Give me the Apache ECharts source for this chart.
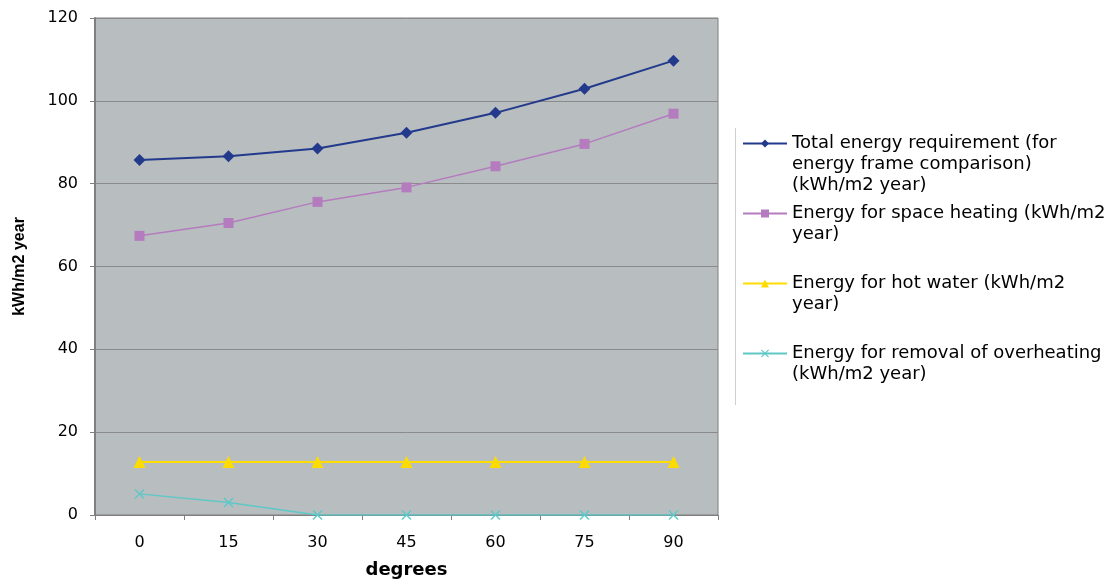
<!DOCTYPE html>
<html>
<head>
<meta charset="utf-8">
<script src="https://cdn.jsdelivr.net/npm/echarts@6/dist/echarts.min.js"></script>
<style>html,body{margin:0;padding:0;background:#fff}#c{width:1119px;height:581px}</style>
</head>
<body>
<div id="c"></div>
<script>
const categories = ['0', '15', '30', '45', '60', '75', '90'];
const totalEnergy = [85.7, 86.6, 88.5, 92.3, 97.1, 102.9, 109.7];
const spaceHeating = [67.4, 70.5, 75.6, 79.1, 84.2, 89.6, 96.9];
const hotWater = [12.8, 12.8, 12.8, 12.8, 12.8, 12.8, 12.8];
const overheating = [5.1, 3.0, 0, 0, 0, 0, 0];
const seriesNames = [
  'Total energy requirement (for energy frame comparison) (kWh/m2 year)',
  'Energy for space heating (kWh/m2 year)',
  'Energy for hot water (kWh/m2 year)',
  'Energy for removal of overheating (kWh/m2 year)'
];
const legendLabels = [
  'Total energy requirement (for\nenergy frame comparison)\n(kWh/m2 year)',
  'Energy for space heating (kWh/m2\nyear)',
  'Energy for hot water (kWh/m2\nyear)',
  'Energy for removal of overheating\n(kWh/m2 year)'
];
const yTicks = [0, 20, 40, 60, 80, 100, 120];
const xAxisTitle = 'degrees';
const yAxisTitle = 'kWh/m2 year';

const WIDE = 'DejaVu Sans, Verdana, sans-serif';
const ARIAL = 'Liberation Sans, Arial, sans-serif';
const colors = ['#233a8c', '#b57bbf', '#ffdc00', '#5ec8c6'];
const xPath = 'path://M0,1L1,0L5,4L9,0L10,1L6,5L10,9L9,10L5,6L1,10L0,9L4,5Z';

// pad each legend label with empty lines so that its first line sits on the icon
// and every item has the same height (5 lines)
function padLabel(label) {
  const n = label.split('\n').length;
  const before = Math.max(n - 1, 2);
  const after = 5 - before - n;
  return '\n'.repeat(before) + label + '\n'.repeat(Math.max(after, 0));
}

const chart = echarts.init(document.getElementById('c'));
chart.setOption({
  animation: false,
  backgroundColor: '#ffffff',
  textStyle: { fontFamily: WIDE },
  grid: {
    left: 95, right: 401, top: 18, bottom: 66,
    containLabel: false,
    outerBoundsMode: 'none',
    show: true, backgroundColor: '#b8bdc0', borderColor: '#7f7f7f', borderWidth: 1
  },
  legend: {
    orient: 'vertical',
    left: 742, top: 91,
    padding: 0,
    itemWidth: 44, itemHeight: 10, itemGap: -35,
    data: seriesNames,
    formatter: name => padLabel(legendLabels[seriesNames.indexOf(name)]),
    textStyle: { fontFamily: WIDE, fontSize: 18, color: '#000', lineHeight: 21 }
  },
  xAxis: {
    type: 'category',
    data: categories,
    boundaryGap: true,
    name: xAxisTitle,
    nameLocation: 'middle',
    nameGap: 46,
    nameTextStyle: { fontFamily: WIDE, fontSize: 18, fontWeight: 'bold', color: '#000' },
    axisLine: { lineStyle: { color: '#7f7f7f', width: 1 } },
    axisTick: { show: true, alignWithLabel: false, length: 5, lineStyle: { color: '#7f7f7f' } },
    axisLabel: { fontFamily: WIDE, fontSize: 16, color: '#000', margin: 20 },
    splitLine: { show: false }
  },
  yAxis: {
    type: 'value',
    min: yTicks[0], max: yTicks[yTicks.length - 1], interval: 20,
    name: yAxisTitle,
    nameLocation: 'middle',
    nameRotate: 90,
    nameGap: 75,
    nameTextStyle: { fontFamily: ARIAL, fontSize: 16, fontWeight: 'bold', color: '#000', verticalAlign: 'middle' },
    axisLine: { show: true, lineStyle: { color: '#7f7f7f', width: 2 } },
    axisTick: { show: true, length: 5, lineStyle: { color: '#7f7f7f' } },
    axisLabel: { fontFamily: WIDE, fontSize: 16, color: '#000', margin: 17 },
    splitLine: { show: true, lineStyle: { color: '#8a8a8a', width: 1 } }
  },
  series: [
    { name: seriesNames[0], type: 'line', data: totalEnergy, symbol: 'diamond', symbolSize: 12,
      itemStyle: { color: colors[0] }, lineStyle: { color: colors[0], width: 2 }, z: 5 },
    { name: seriesNames[1], type: 'line', data: spaceHeating, symbol: 'rect', symbolSize: 10,
      itemStyle: { color: colors[1] }, lineStyle: { color: colors[1], width: 1.5 }, z: 4 },
    { name: seriesNames[2], type: 'line', data: hotWater, symbol: 'triangle', symbolSize: 12,
      itemStyle: { color: colors[2] }, lineStyle: { color: colors[2], width: 2 }, z: 3 },
    { name: seriesNames[3], type: 'line', data: overheating, symbol: xPath, symbolSize: 10,
      itemStyle: { color: colors[3] }, lineStyle: { color: colors[3], width: 1.5 }, z: 6 }
  ],
  graphic: [
    { type: 'line', shape: { x1: 735.5, y1: 128, x2: 735.5, y2: 405 },
      style: { stroke: '#cfcfcf', lineWidth: 1 }, silent: true }
  ]
});
</script>
</body>
</html>
